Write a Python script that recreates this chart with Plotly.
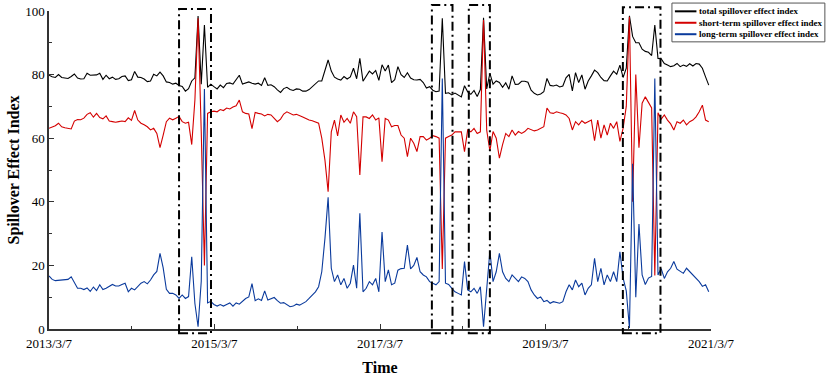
import pandas as pd
import plotly.graph_objects as go

# ---------------- data ----------------
start_date = "2013-03-07"
n_points = 209
dates = pd.date_range(start_date, periods=n_points, freq="14D")

short_term = [
    63.1, 63.5, 63.9, 64.7, 63.6, 63.3, 63.2, 62.9, 65.4, 65.9,
    65.8, 66.3, 67.5, 68.0, 66.6, 67.8, 66.5, 66.1, 67.0, 65.4,
    65.2, 65.0, 65.2, 65.4, 65.2, 66.4, 65.6, 68.7, 65.7, 64.7,
    64.2, 63.6, 62.6, 63.1, 61.5, 57.0, 61.0, 65.2, 66.3, 65.8,
    66.3, 66.8, 65.2, 64.7, 65.0, 58.0, 72.0, 97.7, 62.0, 20.0,
    67.8, 68.3, 68.5, 68.3, 69.0, 68.7, 69.5, 69.2, 69.8, 70.2,
    72.0, 68.3, 67.8, 67.6, 63.0, 68.1, 67.8, 67.6, 67.0, 67.5,
    67.3, 66.2, 65.2, 66.0, 67.6, 68.3, 67.8, 67.3, 67.5, 67.2,
    66.7, 66.2, 65.7, 65.5, 65.2, 64.7, 60.0, 53.1, 43.2, 62.0,
    65.7, 60.7, 67.3, 65.0, 66.2, 64.7, 68.3, 66.8, 48.4, 66.7,
    66.7, 66.2, 67.3, 65.7, 66.4, 52.6, 66.2, 65.7, 63.6, 64.0,
    64.0, 61.0, 60.0, 54.2, 60.0, 58.4, 55.8, 60.5, 60.5, 59.4,
    60.0, 60.8, 60.5, 60.0, 18.9, 60.0, 60.5, 61.0, 62.0, 62.0,
    62.0, 55.8, 62.6, 62.0, 63.1, 61.5, 62.0, 97.2, 62.5, 56.0,
    62.1, 60.0, 53.7, 58.0, 61.5, 60.5, 62.6, 61.0, 62.1, 61.5,
    62.1, 63.1, 62.6, 62.3, 62.6, 63.1, 63.6, 69.5, 68.0, 67.8,
    68.3, 68.0, 67.8, 67.3, 66.2, 62.6, 65.2, 64.2, 65.5, 64.7,
    65.2, 65.7, 59.2, 65.7, 60.0, 64.2, 61.0, 64.7, 63.1, 65.2,
    59.0, 63.1, 70.0, 98.2, 40.0, 80.0, 57.0, 71.0, 73.0, 71.0,
    69.5, 16.8, 68.0, 66.0,
    67.3, 65.7, 64.5, 62.6, 65.2, 64.7, 65.7, 64.2, 65.2, 65.7,
    66.7, 68.3, 70.4, 65.7, 65.2,
]

long_term = [
    16.7, 15.6, 15.2, 15.3, 15.4, 15.5, 15.6, 16.4, 14.8, 12.8,
    12.8, 12.4, 12.9, 11.8, 13.2, 12.1, 13.9, 12.4, 12.8, 13.3,
    14.0, 13.5, 13.5, 14.0, 14.4, 11.7, 12.8, 12.3, 13.5, 14.4,
    14.9, 14.2, 15.4, 17.0, 18.1, 23.8, 19.2, 12.5, 11.2, 11.2,
    10.7, 9.6, 10.7, 9.6, 10.2, 22.7, 8.0, 0.7, 15.0, 75.5,
    8.2, 8.7, 7.7, 7.2, 7.7, 7.2, 7.7, 8.2, 7.2, 8.2,
    7.8, 8.7, 9.6, 10.1, 14.3, 8.9, 9.5, 9.0, 12.0, 9.1,
    9.6, 9.9, 8.9, 8.1, 8.3, 7.5, 7.0, 7.2, 7.8, 7.5,
    8.1, 8.6, 9.6, 10.7, 11.7, 13.3, 18.0, 28.5, 41.4, 19.1,
    14.9, 17.0, 13.9, 15.9, 12.8, 14.4, 20.1, 12.8, 36.4, 11.7,
    12.8, 14.9, 13.9, 15.9, 11.7, 30.5, 14.9, 18.6, 13.9, 14.4,
    18.5, 19.0, 19.1, 26.4, 18.9, 20.0, 22.5, 18.0, 17.0, 16.4,
    14.9, 14.4, 13.9, 14.9, 78.8, 14.4, 14.0, 12.8, 11.7, 11.2,
    10.7, 21.2, 12.3, 11.7, 12.8, 11.2, 13.3, 0.7, 13.0, 24.5,
    14.9, 18.0, 23.8, 18.0, 15.9, 14.9, 17.0, 15.9, 14.9, 16.4,
    15.9, 14.9, 12.3, 10.7, 9.6, 10.1, 8.6, 9.0, 8.1, 8.6,
    8.4, 8.1, 8.6, 11.7, 13.9, 12.3, 15.4, 13.3, 14.4, 10.7,
    12.8, 13.9, 22.2, 14.9, 19.1, 13.9, 17.0, 14.9, 18.0, 14.9,
    24.3, 16.0, 12.0, 0.3, 52.0, 10.0, 33.0, 17.0, 14.0, 16.0,
    16.5, 78.8, 17.0, 19.0,
    15.9, 18.0, 19.1, 21.2, 18.8, 18.0, 17.5, 19.1, 18.0, 17.0,
    15.9, 14.9, 13.4, 13.9, 11.7,
]

total = [
    79.8, 79.3, 79.1, 80.0, 79.1, 78.9, 78.8, 79.4, 80.2, 78.9,
    78.6, 78.7, 80.4, 79.8, 79.8, 79.9, 80.4, 78.5, 79.8, 78.7,
    79.2, 78.5, 78.7, 79.4, 79.6, 78.1, 78.4, 81.0, 79.2, 79.1,
    78.6, 77.8, 78.0, 80.1, 79.6, 80.8, 79.6, 77.7, 77.5, 77.0,
    77.3, 76.6, 76.3, 74.8, 75.6, 78.0, 79.0, 98.4, 77.0, 95.6,
    76.0, 77.0, 76.2, 75.5, 76.7, 75.9, 77.2, 77.4, 77.0, 78.4,
    79.8, 77.0, 77.4, 77.7, 77.3, 77.0, 77.3, 76.6, 79.0, 76.6,
    76.8, 76.2, 75.2, 74.4, 75.6, 76.0, 75.3, 75.0, 75.5, 75.4,
    74.8, 74.8, 75.3, 76.2, 76.9, 78.0, 78.0, 81.6, 84.6, 81.1,
    79.2, 78.6, 78.3, 79.4, 78.6, 79.3, 82.0, 78.7, 85.1, 77.9,
    79.5, 81.1, 80.2, 81.3, 78.2, 83.1, 81.1, 83.0, 77.5, 78.4,
    82.5, 80.0, 79.1, 80.6, 78.9, 78.4, 78.3, 78.5, 77.5, 75.8,
    76.2, 75.1, 74.6, 74.8, 97.7, 74.1, 74.3, 73.6, 74.2, 73.5,
    73.0, 76.5, 74.6, 73.8, 75.0, 73.1, 75.3, 97.9, 75.5, 80.4,
    77.0, 78.0, 77.5, 76.0, 77.4, 75.4, 79.6, 76.9, 77.0, 77.9,
    77.9, 77.6, 75.1, 74.1, 73.6, 73.9, 74.6, 78.8, 76.6, 76.4,
    76.7, 76.1, 76.4, 79.0, 80.1, 74.9, 80.6, 77.5, 79.9, 75.4,
    78.0, 79.6, 81.4, 80.6, 79.1, 78.1, 78.0, 79.6, 81.1, 80.1,
    83.0, 79.1, 82.0, 98.5, 92.0, 90.0, 90.0, 88.0, 87.3, 87.0,
    86.0, 95.6, 85.1, 85.0,
    83.5, 83.0, 82.5, 82.8, 83.5, 82.5, 83.0, 82.6, 83.4, 82.7,
    83.5, 83.3, 82.0, 79.3, 76.7,
]

series_names = ["total spillover effect index",
                "short-term spillover effect index",
                "long-term spillover effect index"]
series_colors = ["#000000", "#d40000", "#0a3a9c"]

x_tick_vals = ["2013-03-07", "2015-03-07", "2017-03-07", "2019-03-07", "2021-03-07"]
x_tick_text = ["2013/3/7", "2015/3/7", "2017/3/7", "2019/3/7", "2021/3/7"]
x_minor_vals = ["2014-03-07", "2016-03-07", "2018-03-07", "2020-03-07"]
x_range = ["2013-03-07", "2021-03-07"]

# highlighted windows (dash-dot boxes)
box_starts = ["2014-10-02", "2017-10-22", "2018-04-03", "2020-02-12"]
box_ends = ["2015-02-20", "2018-01-21", "2018-07-05", "2020-07-27"]
box_tops = [1.006, 1.019, 1.019, 1.012]   # fraction of plot height
box_bottom = -0.013

SERIF = "Times New Roman, Liberation Serif, serif"

# legend box placement (paper fractions)
LEG_X0, LEG_X1 = 0.941, 1.172
LEG_Y0, LEG_Y1 = 0.903, 1.025
LEG_LINE_X0, LEG_LINE_X1 = 0.9455, 0.978
LEG_ROWS = [0.999, 0.963, 0.927]

fig = go.Figure()
for name, vals, col in zip(series_names, [total, short_term, long_term], series_colors):
    fig.add_trace(go.Scatter(
        x=dates, y=vals, mode="lines", name=name,
        line=dict(color=col, width=1.1), showlegend=False,
    ))

for s, e, t in zip(box_starts, box_ends, box_tops):
    fig.add_shape(type="rect", xref="x", yref="paper",
                  x0=s, x1=e, y0=box_bottom, y1=t,
                  line=dict(color="black", width=2, dash="9px,4px,2px,4px"),
                  fillcolor="rgba(0,0,0,0)", layer="above")

# legend (frame, line samples and labels)
fig.add_shape(type="rect", xref="paper", yref="paper",
              x0=LEG_X0, x1=LEG_X1, y0=LEG_Y0, y1=LEG_Y1,
              line=dict(color="#555", width=1), fillcolor="white", layer="above")
for name, col, ry in zip(series_names, series_colors, LEG_ROWS):
    fig.add_shape(type="line", xref="paper", yref="paper",
                  x0=LEG_LINE_X0, x1=LEG_LINE_X1, y0=ry, y1=ry,
                  line=dict(color=col, width=2), layer="above")
    fig.add_annotation(xref="paper", yref="paper", x=LEG_LINE_X1, y=ry,
                       xanchor="left", yanchor="middle", showarrow=False,
                       text="<b>" + name + "</b>", xshift=1,
                       font=dict(family=SERIF, size=9, color="black"))

fig.update_layout(
    width=829, height=378,
    margin=dict(l=49, r=118, t=11, b=49, autoexpand=False),
    paper_bgcolor="white", plot_bgcolor="white",
    font=dict(family=SERIF, size=13, color="black"),
    showlegend=False,
)

fig.update_xaxes(
    type="date", range=x_range, automargin=False,
    tickmode="array", tickvals=x_tick_vals, ticktext=x_tick_text,
    ticks="inside", ticklen=5, tickwidth=1, tickcolor="#333",
    ticklabelstandoff=2,
    showline=True, linecolor="#333", linewidth=1.5,
    showgrid=False, zeroline=False,
    minor=dict(tickmode="array", tickvals=x_minor_vals, ticks="inside",
               ticklen=3, tickcolor="#333"),
    title=dict(text="<b>Time</b>", font=dict(family=SERIF, size=16), standoff=11),
)
fig.update_yaxes(
    range=[0, 100], tickmode="linear", tick0=0, dtick=20, automargin=False,
    ticks="inside", ticklen=5, tickwidth=1, tickcolor="#333",
    showline=True, linecolor="#333", linewidth=1.5,
    showgrid=False, zeroline=False,
    minor=dict(dtick=10, ticks="inside", ticklen=3, tickcolor="#333"),
    title=dict(text="<b>Spillover Effect Index</b>", font=dict(family=SERIF, size=16), standoff=2),
)

fig.write_html("out.html", config={"displayModeBar": False},
               post_script="document.body.style.margin='0px';")
